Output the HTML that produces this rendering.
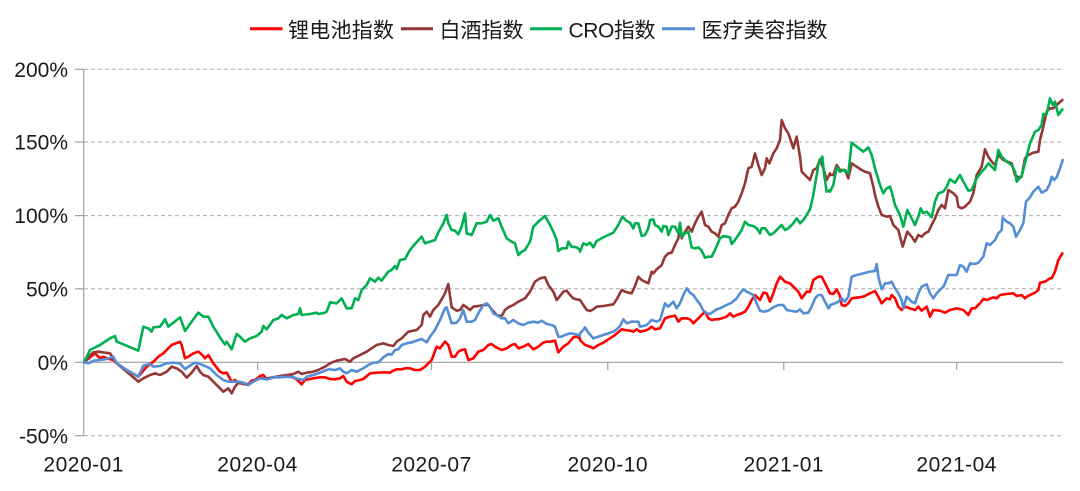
<!DOCTYPE html>
<html>
<head>
<meta charset="utf-8">
<style>
  html,body{margin:0;padding:0;background:#fff;}
  svg{display:block;}
  text{font-family:"Liberation Sans","Noto Sans CJK SC",sans-serif;fill:#1a1a1a;}
  .s{fill:none;stroke-width:2.6;stroke-linejoin:round;stroke-linecap:round;}
</style>
</head>
<body>
<svg width="1080" height="491" viewBox="0 0 1080 491" xmlns="http://www.w3.org/2000/svg">
  <!-- Legend -->
  <line x1="250" y1="28.7" x2="282.5" y2="28.7" stroke="#FF0000" stroke-width="3"/>
  <text x="288" y="37.5" font-size="21" textLength="106" lengthAdjust="spacing">锂电池指数</text>
  <line x1="401" y1="28.7" x2="433" y2="28.7" stroke="#953735" stroke-width="3"/>
  <text x="439.5" y="37.5" font-size="21" textLength="84" lengthAdjust="spacing">白酒指数</text>
  <line x1="530" y1="28.7" x2="562" y2="28.7" stroke="#00B050" stroke-width="3"/>
  <text x="568.5" y="37.5" font-size="21" textLength="87" lengthAdjust="spacing">CRO指数</text>
  <line x1="662" y1="28.7" x2="695" y2="28.7" stroke="#558ED5" stroke-width="3"/>
  <text x="701.5" y="37.5" font-size="21" textLength="126" lengthAdjust="spacing">医疗美容指数</text>

  <!-- Gridlines -->
  <g stroke="#ababab" stroke-width="1" stroke-dasharray="4,3">
    <line x1="84" y1="69.3" x2="1063" y2="69.3"/>
    <line x1="84" y1="142" x2="1063" y2="142"/>
    <line x1="84" y1="215.6" x2="1063" y2="215.6"/>
    <line x1="84" y1="288.8" x2="1063" y2="288.8"/>
    <line x1="84" y1="435.7" x2="1063" y2="435.7"/>
  </g>
  <!-- Axes -->
  <g stroke="#a0a0a0" stroke-width="1.2">
    <line x1="83.7" y1="69.3" x2="83.7" y2="435.7"/>
    <line x1="75" y1="69.3" x2="83.7" y2="69.3"/>
    <line x1="75" y1="142" x2="83.7" y2="142"/>
    <line x1="75" y1="215.6" x2="83.7" y2="215.6"/>
    <line x1="75" y1="288.8" x2="83.7" y2="288.8"/>
    <line x1="75" y1="362.3" x2="83.7" y2="362.3"/>
    <line x1="75" y1="435.7" x2="83.7" y2="435.7"/>
    <line x1="83.7" y1="362.3" x2="1063" y2="362.3"/>
    <line x1="257.6" y1="362.3" x2="257.6" y2="370"/>
    <line x1="431.5" y1="362.3" x2="431.5" y2="370"/>
    <line x1="607.8" y1="362.3" x2="607.8" y2="370"/>
    <line x1="783.8" y1="362.3" x2="783.8" y2="370"/>
    <line x1="956.7" y1="362.3" x2="956.7" y2="370"/>
  </g>

  <!-- Y labels -->
  <g font-size="21" text-anchor="end">
    <text x="68" y="77">200%</text>
    <text x="68" y="149.6">150%</text>
    <text x="68" y="223.2">100%</text>
    <text x="68" y="296.4">50%</text>
    <text x="68" y="369.9">0%</text>
    <text x="68" y="443.3">-50%</text>
  </g>
  <!-- X labels -->
  <g font-size="21" text-anchor="middle" letter-spacing="0.5">
    <text x="83.7" y="471.5">2020-01</text>
    <text x="257.6" y="471.5">2020-04</text>
    <text x="431.5" y="471.5">2020-07</text>
    <text x="607.8" y="471.5">2020-10</text>
    <text x="783.8" y="471.5">2021-01</text>
    <text x="956.7" y="471.5">2021-04</text>
  </g>

  <!-- Series: red (lithium) -->
  <g stroke="#FF0000">
    <g transform="translate(80,190) scale(0.333333)">
      <polyline class="s" vector-effect="non-scaling-stroke" points="12,517 35,498 45,490 60,505 70,500 80,505 100,510 110,520 140,540 175,560 200,530 220,515 235,500 250,490 275,465 300,455 305,465 315,505 325,500 340,490 355,485 365,493 375,505 385,495 400,520 420,545 430,550 440,548 455,575 465,570 475,578 490,580 505,583 515,572 525,570 540,558 550,555 560,568 580,562 600,560 620,558 635,560 650,568 665,583 675,570 700,565 720,562 735,562 750,567"/>
    </g>
    <g transform="translate(330,190) scale(0.333333)">
      <polyline class="s" vector-effect="non-scaling-stroke" points="0,567 15,568 30,565 40,558 50,575 65,583 75,573 90,570 100,567 120,550 140,548 160,547 180,548 190,542 200,538 215,538 225,535 240,535 255,540 270,540 285,530 305,510 320,470 330,475 345,455 355,465 365,500 375,500 385,485 395,480 405,478 415,510 430,505 445,485 460,480 475,465 485,462 495,470 515,480 530,475 545,465 555,462 565,475 580,470 595,462 610,478 625,470 640,458 650,455 660,455 675,452 685,487 700,470 715,460 730,442 740,440 750,445"/>
    </g>
    <g transform="translate(580,110) scale(0.333333)">
      <polyline class="s" vector-effect="non-scaling-stroke" points="0,690 15,705 30,710 40,715 55,705 70,698 90,685 105,675 125,658 135,660 150,662 160,665 170,658 180,665 195,662 205,658 215,650 225,658 240,655 255,625 270,620 285,617 295,635 305,625 320,625 330,628 340,640 355,625 365,615 375,605 385,625 395,630 405,628 415,628 425,625 440,620 450,610 460,620 470,615 485,610 495,605 505,590 515,570 525,555 530,560 540,570 550,548 560,550 570,575 580,550 590,520 600,500 615,515 630,520 645,535 655,545 665,565 680,545 690,545 700,510 715,500 725,500 735,520 745,540 750,550"/>
    </g>
    <g transform="translate(830,90) scale(0.333333)">
      <polyline class="s" vector-effect="non-scaling-stroke" points="0,610 10,612 20,598 30,618 35,645 45,648 55,640 65,625 100,620 120,610 135,603 145,620 155,640 170,625 180,628 185,615 195,625 205,650 215,660 225,650 240,655 255,660 265,650 275,662 290,650 300,680 310,660 330,662 345,668 360,660 380,655 400,660 415,675 425,655 435,655 450,640 460,627 470,630 490,622 500,625 510,615 530,612 550,610 560,618 575,615 585,625 590,620 600,615 615,608 625,600 630,578 645,575 660,565 665,565 675,545 685,510 697,490"/>
    </g>
  </g>

  <!-- Series: brown (liquor) -->
  <g stroke="#953735">
    <g transform="translate(80,190) scale(0.333333)">
      <polyline class="s" vector-effect="non-scaling-stroke" points="12,517 30,497 40,487 55,485 75,488 90,490 100,505 110,520 140,545 175,575 190,565 210,555 225,550 240,555 260,545 275,530 290,535 305,545 320,563 335,548 350,528 360,545 370,555 385,560 400,575 415,590 430,605 445,595 455,610 465,590 475,578 490,582 505,585 520,572 540,565 560,565 580,562 600,558 620,555 640,552 655,545 665,552 680,548 700,545 715,540 735,530 750,520"/>
    </g>
    <g transform="translate(330,190) scale(0.333333)">
      <polyline class="s" vector-effect="non-scaling-stroke" points="0,520 20,512 45,507 60,515 70,505 90,495 110,485 125,475 140,465 160,460 175,465 190,468 200,455 215,445 235,425 260,420 275,405 280,375 290,365 300,380 310,360 325,345 345,310 355,282 365,352 380,362 390,360 400,345 410,352 420,360 430,350 445,348 460,345 475,345 485,358 500,375 515,378 525,360 535,352 550,345 565,335 575,330 585,325 600,305 615,275 630,265 645,262 655,285 670,305 680,330 690,318 700,305 710,302 720,315 730,325 740,328 750,330"/>
    </g>
    <g transform="translate(580,110) scale(0.333333)">
      <polyline class="s" vector-effect="non-scaling-stroke" points="0,570 10,585 20,600 30,603 40,598 50,590 70,588 100,583 110,568 125,540 135,545 145,548 155,550 165,528 175,500 185,510 195,515 205,520 215,485 220,490 230,478 245,465 255,440 265,430 275,428 285,405 295,385 300,340 305,385 315,365 325,350 335,365 345,340 355,320 365,305 375,345 385,350 395,365 405,370 415,380 425,345 435,340 445,315 455,295 465,290 475,275 485,250 495,220 505,175 515,170 525,130 535,165 545,195 555,175 560,145 568,160 580,130 590,115 600,90 605,30 615,55 625,70 640,115 650,80 660,140 665,185 675,195 690,210 700,180 710,175 720,148 730,175 740,210 750,190"/>
    </g>
    <g transform="translate(830,90) scale(0.333333)">
      <polyline class="s" vector-effect="non-scaling-stroke" points="0,255 10,255 20,225 30,240 45,240 55,265 65,220 80,230 95,240 105,245 120,250 130,290 135,315 145,350 155,375 170,380 180,378 190,405 195,410 205,420 218,470 232,425 245,440 255,455 265,435 275,440 285,430 295,425 305,405 315,385 325,360 335,345 345,355 355,300 370,310 380,320 385,350 395,355 405,350 420,335 430,310 440,255 455,230 465,178 475,200 485,215 495,225 505,195 520,210 545,220 555,255 565,262 575,260 585,205 595,195 610,188 625,185 630,150 640,110 650,65 660,55 670,55 680,45 697,30"/>
    </g>
  </g>

  <!-- Series: green (CRO) -->
  <g stroke="#00B050">
    <g transform="translate(80,190) scale(0.333333)">
      <polyline class="s" vector-effect="non-scaling-stroke" points="12,517 30,480 60,465 90,445 105,438 110,455 140,467 175,482 190,410 205,415 215,425 220,412 240,410 255,388 265,410 280,398 300,382 305,395 315,423 335,395 355,368 370,380 385,380 400,410 425,450 435,463 440,455 455,478 470,432 480,440 495,455 510,445 530,438 545,425 550,408 560,418 580,390 595,385 605,375 620,385 640,375 655,372 660,355 665,375 690,372 710,368 715,372 735,368 740,365 750,338"/>
    </g>
    <g transform="translate(330,190) scale(0.333333)">
      <polyline class="s" vector-effect="non-scaling-stroke" points="0,337 20,340 35,325 50,355 65,355 75,325 85,330 95,300 110,285 120,265 135,275 145,263 155,272 165,258 175,245 185,240 195,228 200,237 210,210 225,207 240,180 255,162 275,140 285,160 300,155 315,150 325,127 340,100 350,75 355,100 365,120 375,122 385,133 395,110 405,70 410,130 425,135 440,100 455,100 470,95 480,75 490,92 505,85 515,110 530,145 545,155 555,160 565,195 575,185 585,180 600,155 610,110 625,95 645,78 660,105 670,125 680,150 685,183 695,175 710,175 715,155 725,170 740,172 750,180"/>
    </g>
    <g transform="translate(580,110) scale(0.333333)">
      <polyline class="s" vector-effect="non-scaling-stroke" points="0,425 10,400 20,405 30,398 40,412 50,393 70,382 85,375 100,368 115,345 127,320 140,333 150,338 160,355 165,340 175,340 185,378 195,375 205,355 210,330 220,328 225,345 235,350 245,365 250,348 260,350 265,375 275,350 285,350 295,370 300,338 305,380 315,370 325,365 335,412 345,415 355,412 365,422 375,443 385,440 395,440 405,420 420,385 430,378 440,380 450,382 455,402 465,390 475,375 485,360 495,335 505,345 520,348 530,355 540,370 545,355 555,355 570,375 580,370 595,355 605,345 615,360 625,355 640,340 650,325 660,340 670,330 680,315 690,298 700,255 710,195 715,165 722,148 727,140 732,190 740,245 750,240"/>
    </g>
    <g transform="translate(830,90) scale(0.333333)">
      <polyline class="s" vector-effect="non-scaling-stroke" points="0,305 10,285 20,232 30,245 40,240 55,250 65,158 80,170 100,185 115,172 125,195 135,235 150,285 160,310 170,295 180,290 185,305 195,345 210,375 220,410 232,360 245,385 255,405 265,380 272,355 280,370 290,365 305,382 315,335 325,310 340,305 350,290 360,268 375,278 390,255 400,275 415,302 425,300 440,265 455,245 465,235 475,220 485,230 495,240 505,180 515,200 530,215 545,225 555,245 560,275 575,258 585,218 600,160 615,125 625,120 635,105 640,72 650,72 660,25 668,45 675,35 685,75 697,58"/>
    </g>
  </g>

  <!-- Series: blue (medical beauty) -->
  <g stroke="#558ED5">
    <g transform="translate(80,190) scale(0.333333)">
      <polyline class="s" vector-effect="non-scaling-stroke" points="12,517 25,520 40,512 60,510 80,507 100,500 110,520 140,540 175,560 190,527 210,522 220,530 240,528 260,520 280,518 300,520 315,537 330,527 345,518 360,522 375,528 390,535 410,555 430,570 445,575 460,575 475,575 490,578 505,585 520,575 540,565 560,568 580,562 600,562 620,560 640,562 660,568 670,570 680,560 700,555 720,548 740,540 750,537"/>
    </g>
    <g transform="translate(330,190) scale(0.333333)">
      <polyline class="s" vector-effect="non-scaling-stroke" points="0,538 15,540 30,535 40,545 50,550 65,540 80,545 100,535 115,525 130,518 145,517 160,502 175,492 185,494 195,480 205,478 215,465 230,460 245,457 260,452 275,447 290,457 300,440 315,420 330,390 345,355 350,352 365,400 380,398 390,385 400,360 410,395 425,395 435,390 445,370 460,345 470,340 480,350 490,370 505,378 515,385 525,385 535,400 550,390 565,400 580,405 595,398 610,395 625,398 635,392 650,402 665,405 675,410 685,440 695,440 705,435 720,430 735,432 750,437"/>
    </g>
    <g transform="translate(580,110) scale(0.333333)">
      <polyline class="s" vector-effect="non-scaling-stroke" points="0,670 10,660 15,652 25,668 40,685 55,680 70,675 85,670 100,665 110,658 120,648 130,628 140,640 155,635 165,635 175,635 180,650 190,648 200,645 215,630 230,635 240,630 255,580 265,590 280,575 290,595 300,580 310,555 320,535 330,548 340,555 350,570 360,582 370,602 380,610 390,612 400,605 410,598 420,595 430,590 440,585 455,578 470,565 480,550 490,538 500,545 510,550 520,555 530,580 540,602 550,605 565,602 580,592 595,585 610,585 620,600 635,603 650,605 660,598 670,610 685,608 695,590 705,565 715,555 725,555 735,575 745,595 750,590"/>
    </g>
    <g transform="translate(830,90) scale(0.333333)">
      <polyline class="s" vector-effect="non-scaling-stroke" points="0,645 15,640 25,635 35,625 45,635 55,620 65,560 80,555 100,550 120,545 135,543 140,522 145,560 155,598 165,580 175,580 185,575 195,595 205,610 215,630 220,655 230,620 245,635 255,640 265,610 275,590 290,583 300,610 310,625 320,610 330,600 340,590 345,580 355,555 370,555 380,555 390,525 400,530 410,545 420,520 435,522 445,518 460,500 470,460 480,465 495,450 505,430 515,420 518,383 530,395 540,400 550,410 558,440 570,420 580,400 588,335 600,322 610,305 625,290 635,308 650,300 660,280 665,260 672,270 680,262 690,235 698,210"/>
    </g>
  </g>
</svg>
</body>
</html>
